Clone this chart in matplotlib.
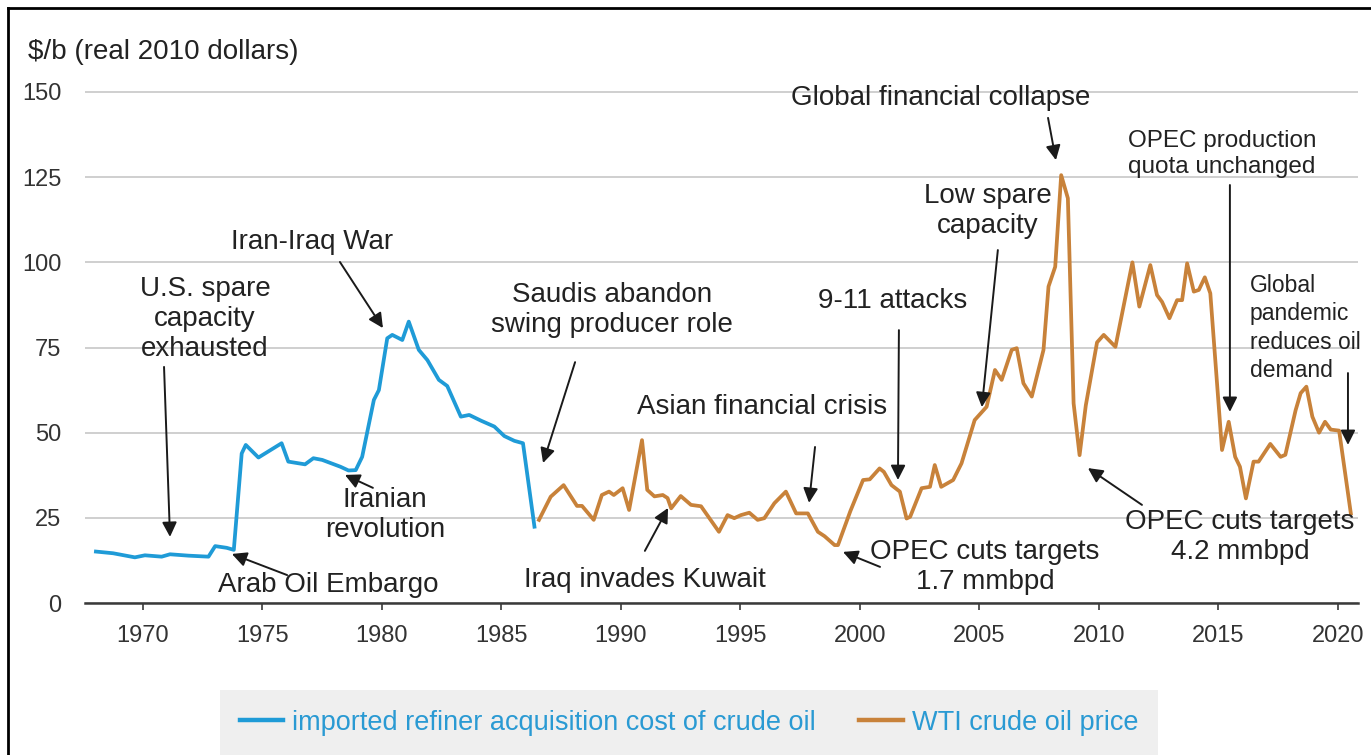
import matplotlib
matplotlib.use("Agg")
import matplotlib.pyplot as plt
from matplotlib.lines import Line2D

plt.rcParams['font.family'] = ['Liberation Sans', 'DejaVu Sans']

# ---------------- data ----------------
ric_years = [1968.03, 1968.75, 1969.66, 1970.08, 1970.78, 1971.13, 1971.9, 1972.74,
             1973.02, 1973.5, 1973.8, 1974.13, 1974.3, 1974.83, 1975.8, 1976.08,
             1976.78, 1977.13, 1977.5, 1978.26, 1978.6, 1978.9, 1979.17, 1979.66,
             1979.87, 1980.22, 1980.43, 1980.85, 1981.12, 1981.54, 1981.9, 1982.38,
             1982.73, 1983.3, 1983.65, 1984.15, 1984.7, 1985.12, 1985.54, 1985.9,
             1986.38]
ric_values = [15.1, 14.6, 13.4, 14.0, 13.6, 14.3, 13.9, 13.6,
              16.7, 16.2, 15.6, 43.9, 46.4, 42.7, 46.9, 41.5,
              40.7, 42.5, 42.0, 40.0, 38.9, 39.0, 42.9, 59.6,
              62.5, 77.7, 78.7, 77.2, 82.6, 74.3, 71.3, 65.5,
              63.7, 54.7, 55.2, 53.5, 51.8, 49.0, 47.6, 46.9,
              22.4]

wti_years = [1986.57, 1987.06, 1987.6, 1988.16, 1988.37, 1988.86, 1989.2, 1989.5,
             1989.7, 1990.07, 1990.34, 1990.88, 1991.1, 1991.4, 1991.75, 1991.95,
             1992.1, 1992.5, 1992.93, 1993.35, 1994.1, 1994.46, 1994.74, 1995.02,
             1995.37, 1995.72, 1996.0, 1996.42, 1996.9, 1997.33, 1997.82, 1998.24,
             1998.52, 1998.94, 1999.08, 1999.6, 2000.13, 2000.41, 2000.82, 2001.0,
             2001.32, 2001.67, 2001.95, 2002.1, 2002.58, 2002.93, 2003.13, 2003.4,
             2003.9, 2004.25, 2004.8, 2005.3, 2005.65, 2005.93, 2006.35, 2006.56,
             2006.84, 2007.19, 2007.68, 2007.89, 2008.17, 2008.42, 2008.7, 2008.94,
             2009.19, 2009.45, 2009.92, 2010.2, 2010.69, 2011.4, 2011.69, 2012.15,
             2012.43, 2012.64, 2012.95, 2013.27, 2013.48, 2013.69, 2013.97, 2014.18,
             2014.43, 2014.66, 2015.15, 2015.43, 2015.7, 2015.9, 2016.15, 2016.47,
             2016.68, 2017.17, 2017.6, 2017.8, 2018.23, 2018.44, 2018.68, 2018.93,
             2019.21, 2019.46, 2019.7, 2020.05, 2020.54]
wti_values = [24.4, 31.2, 34.6, 28.5, 28.5, 24.4, 31.7, 32.7,
              31.7, 33.7, 27.3, 47.8, 33.2, 31.3, 31.7, 30.8,
              27.8, 31.4, 28.8, 28.4, 20.9, 25.8, 24.9, 25.8,
              26.5, 24.4, 24.9, 29.3, 32.7, 26.3, 26.3, 20.9,
              19.6, 17.0, 17.0, 27.0, 36.1, 36.3, 39.5, 38.5,
              34.6, 32.7, 24.8, 25.3, 33.7, 34.1, 40.5, 34.1,
              36.1, 41.0, 53.7, 57.6, 68.4, 65.5, 74.3, 74.8,
              64.5, 60.6, 74.3, 92.9, 98.7, 125.6, 118.8, 58.6,
              43.4, 58.0, 76.5, 78.7, 75.2, 100.0, 87.0, 99.2,
              90.4, 88.4, 83.6, 88.9, 88.9, 99.7, 91.4, 91.9,
              95.6, 90.9, 44.9, 53.2, 42.9, 40.0, 30.7, 41.5,
              41.5, 46.7, 42.9, 43.5, 56.6, 61.6, 63.5, 54.7,
              50.0, 53.2, 50.9, 50.6, 26.3]

y_ticks = [0, 25, 50, 75, 100, 125, 150]
x_ticks = [1970, 1975, 1980, 1985, 1990, 1995, 2000, 2005, 2010, 2015, 2020]

ric_label = "imported refiner acquisition cost of crude oil"
wti_label = "WTI crude oil price"
y_title = "$/b (real 2010 dollars)"

# (text, text_x, text_y, fontsize, ha, linespacing)
annotations = [
    ("U.S. spare\ncapacity\nexhausted", 1972.59, 83.4, 20, 'center', 1.2),
    ("Arab Oil Embargo", 1977.74, 5.3, 20, 'center', 1.2),
    ("Iran-Iraq War", 1977.07, 106.0, 20, 'center', 1.2),
    ("Iranian\nrevolution", 1980.13, 25.8, 20, 'center', 1.2),
    ("Saudis abandon\nswing producer role", 1989.62, 86.0, 20, 'center', 1.2),
    ("Asian financial crisis", 1995.90, 57.5, 20, 'center', 1.2),
    ("Iraq invades Kuwait", 1991.0, 6.75, 20, 'center', 1.2),
    ("9-11 attacks", 2001.38, 88.6, 20, 'center', 1.2),
    ("OPEC cuts targets\n1.7 mmbpd", 2005.23, 10.6, 20, 'center', 1.2),
    ("Low spare\ncapacity", 2005.36, 115.1, 20, 'center', 1.2),
    ("Global financial collapse", 2003.39, 148.2, 20, 'center', 1.2),
    ("OPEC production\nquota unchanged", 2015.15, 131.8, 17.5, 'center', 1.25),
    ("Global\npandemic\nreduces oil\ndemand", 2016.32, 80.7, 16.5, 'left', 1.3),
    ("OPEC cuts targets\n4.2 mmbpd", 2015.9, 19.4, 20, 'center', 1.2),
]
# (start_x, start_y, tip_x, tip_y)
arrows = [
    (1970.88, 69.3, 1971.13, 19.4),
    (1976.03, 8.2, 1973.72, 14.4),
    (1978.24, 100.1, 1980.04, 80.7),
    (1979.62, 33.8, 1978.45, 37.6),
    (1988.08, 70.7, 1986.74, 41.1),
    (1998.12, 45.8, 1997.87, 29.4),
    (1991.0, 15.3, 1991.97, 27.9),
    (2001.63, 80.1, 2001.59, 36.1),
    (2000.84, 10.6, 1999.29, 15.0),
    (2005.77, 103.6, 2005.10, 57.5),
    (2007.87, 142.4, 2008.20, 130.0),
    (2015.48, 122.7, 2015.48, 56.1),
    (2020.42, 67.5, 2020.42, 46.4),
    (2011.80, 28.8, 2009.54, 39.6),
]

BLUE = '#1f9bd7'
ORANGE = '#c8823a'
TXT = '#222222'

W, H = 1371, 755
fig = plt.figure(figsize=(W / 100, H / 100), dpi=100)

px_per_unit = (603 - 92) / 150.0
ytop = 152
ax_top_px = 603 - ytop * px_per_unit
ax = fig.add_axes([85 / W, 1 - 603 / H, (1358 - 85) / W, (603 - ax_top_px) / H])
ax.set_xlim(1967.573, 2020.84)
ax.set_ylim(0, ytop)

for s in ['left', 'right', 'top']:
    ax.spines[s].set_visible(False)
ax.spines['bottom'].set_color('#3a3a3a')
ax.spines['bottom'].set_linewidth(1.8)

ax.set_yticks(y_ticks)
ax.set_xticks(x_ticks)
ax.tick_params(axis='y', length=0, pad=17, labelsize=17, labelcolor='#333333')
ax.tick_params(axis='x', length=5, width=1.2, color='#3a3a3a', pad=11,
               labelsize=17, labelcolor='#333333', direction='out')
ax.yaxis.grid(True, color='#cccccc', linewidth=1.3)
ax.set_axisbelow(True)

l1, = ax.plot(ric_years, ric_values, color=BLUE, lw=2.7, solid_joinstyle='round',
              label=ric_label, zorder=3)
l2, = ax.plot(wti_years, wti_values, color=ORANGE, lw=2.7, solid_joinstyle='round',
              label=wti_label, zorder=3)

for txt, x, y, fs, ha, ls in annotations:
    ax.text(x, y, txt, ha=ha, va='center', fontsize=fs, color=TXT,
            linespacing=ls, zorder=4, clip_on=False)

for sx, sy, tx, ty in arrows:
    ax.annotate('', xy=(tx, ty), xytext=(sx, sy),
                arrowprops=dict(arrowstyle='-|>', color='#1a1a1a', lw=1.4,
                                mutation_scale=22, shrinkA=0, shrinkB=0),
                annotation_clip=False, zorder=5)

fig.text(28 / W, 1 - 52 / H, y_title, ha='left', va='center', fontsize=20, color=TXT)

leg = fig.legend([l1, l2], [ric_label, wti_label], loc='lower left',
                 bbox_to_anchor=(220 / W, 0.0, 938 / W, 63 / H), mode='expand',
                 ncol=2, frameon=True, fancybox=False, facecolor='#efefef',
                 edgecolor='none', framealpha=1, fontsize=19.5, labelcolor='#2a9ad3',
                 handlelength=1.6, handletextpad=0.35, columnspacing=1.1,
                 borderaxespad=0, borderpad=0.72)
for h in leg.legend_handles:
    h.set_linewidth(3.2)

# screenshot frame (left and top)
fig.add_artist(Line2D([8 / W, 8 / W], [0, 1 - 8 / H], transform=fig.transFigure,
                      color='black', lw=2))
fig.add_artist(Line2D([8 / W, 1], [1 - 8 / H, 1 - 8 / H], transform=fig.transFigure,
                      color='black', lw=2))

fig.savefig('out.png', dpi=100)
